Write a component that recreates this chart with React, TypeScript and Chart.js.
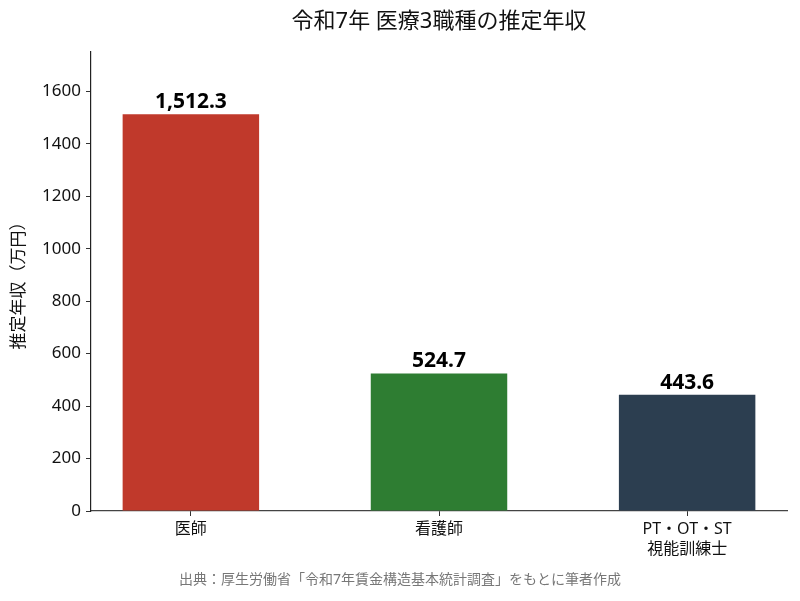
import React, { useEffect, useRef } from "react";
import { Chart, registerables } from "chart.js";

Chart.register(...registerables);

const categories: (string | string[])[] = ["医師", "看護師", ["PT・OT・ST", "視能訓練士"]];
const values = [1512.3, 524.7, 443.6];
const valueLabels = ["1,512.3", "524.7", "443.6"];
const barColors = ["#c0392b", "#2e7d32", "#2c3e50"];
const yTicks = [0, 200, 400, 600, 800, 1000, 1200, 1400, 1600];
const title = "令和7年 医療3職種の推定年収";
const yTitle = "推定年収（万円）";
const source = "出典：厚生労働省「令和7年賃金構造基本統計調査」をもとに筆者作成";

const FONT = "'Noto Sans', 'Noto Sans CJK JP', sans-serif";

const textPlugin = {
  id: "textPlugin",
  afterDraw(chart: any) {
    const { ctx, chartArea } = chart;
    ctx.save();
    ctx.fillStyle = "#111";
    ctx.font = `22px ${FONT}`;
    ctx.textAlign = "center";
    ctx.textBaseline = "middle";
    ctx.fillText(title, (chartArea.left + chartArea.right) / 2, 22);
    ctx.save();
    ctx.translate(19, (chartArea.top + chartArea.bottom) / 2);
    ctx.rotate(-Math.PI / 2);
    ctx.font = `17px ${FONT}`;
    ctx.fillText(yTitle, 0, 0);
    ctx.restore();
    ctx.fillStyle = "#777";
    ctx.font = `14px ${FONT}`;
    ctx.fillText(source, 400, 580);
    const meta = chart.getDatasetMeta(0);
    ctx.fillStyle = "#000";
    ctx.font = `bold 21px ${FONT}`;
    ctx.textBaseline = "alphabetic";
    meta.data.forEach((el: any, i: number) => {
      ctx.fillText(valueLabels[i], el.x, el.y - 6);
    });
    ctx.restore();
  },
};

export default function App() {
  const ref = useRef<HTMLCanvasElement>(null);
  useEffect(() => {
    document.body.style.margin = "0";
    const chart = new Chart(ref.current!, {
      type: "bar",
      data: {
        datasets: [
          {
            data: values.map((v, i) => ({ x: i, y: v })),
            backgroundColor: barColors,
            borderWidth: 0,
            categoryPercentage: 0.55,
            barPercentage: 1,
          },
        ],
      },
      options: {
        animation: false,
        responsive: false,
        layout: { padding: { left: 0, right: 13, top: 52, bottom: 0 } },
        plugins: { legend: { display: false }, tooltip: { enabled: false }, title: { display: false } },
        scales: {
          x: {
            type: "linear",
            min: -0.4025,
            max: 2.4025,
            offset: false,
            afterBuildTicks: (scale: any) => {
              scale.ticks = categories.map((_, i) => ({ value: i }));
            },
            afterFit: (scale: any) => {
              scale.height = 90;
            },
            ticks: {
              autoSkip: false,
              maxRotation: 0,
              color: "#111",
              font: { family: FONT, size: 16, lineHeight: 1.25 },
              padding: 3,
              callback: (v: any) => categories[v as number],
            },
            grid: { display: true, offset: false, drawOnChartArea: false, drawTicks: true, tickLength: 5, color: "#333" },
            border: { display: true, color: "#444", width: 1.2 },
          },
          y: {
            min: 0,
            max: 1750,
            afterBuildTicks: (scale: any) => {
              scale.ticks = yTicks.map((v) => ({ value: v }));
            },
            afterFit: (scale: any) => {
              scale.width = 91;
            },
            ticks: {
              color: "#111",
              font: { family: FONT, size: 17 },
              padding: 5,
              callback: (v: any) => String(v),
            },
            grid: { display: true, drawOnChartArea: false, drawTicks: true, tickLength: 5, color: "#333" },
            border: { display: true, color: "#222", width: 1.2 },
          },
        },
      },
      plugins: [textPlugin],
    } as any);
    return () => chart.destroy();
  }, []);
  return (
    <div style={{ width: 800, height: 601 }}>
      <canvas ref={ref} width={800} height={601} style={{ display: "block" }} />
    </div>
  );
}
